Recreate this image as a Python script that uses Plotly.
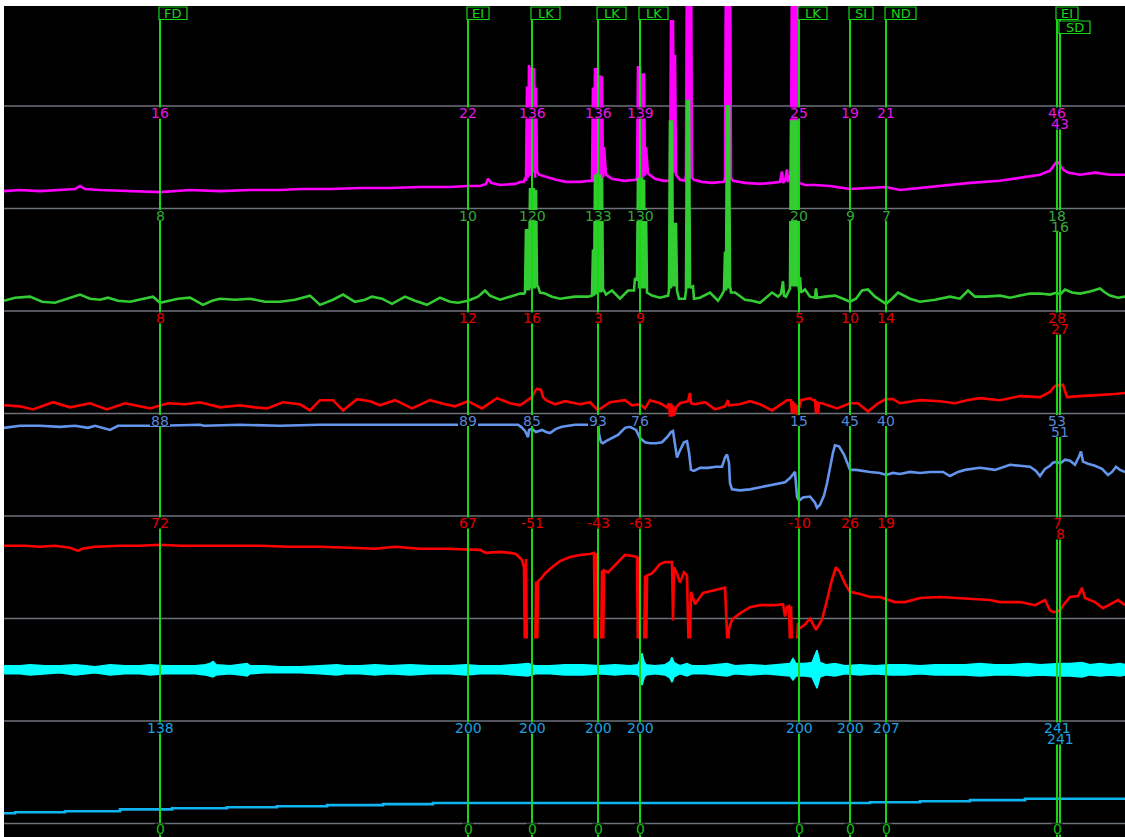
import plotly.graph_objects as go

# ---------------------------------------------------------------- event markers
event_names = ["FD", "EI", "LK", "LK", "LK", "LK", "SI", "ND", "EI", "SD"]
event_times = [160, 468, 532, 598, 640, 799, 850, 886, 1057, 1060]

# channel readings printed at every event marker
mag_at_events = [16, 22, 136, 136, 139, 25, 19, 21, 46, 43]
grn_at_events = [8, 10, 120, 133, 130, 20, 9, 7, 18, 16]
red_at_events = [8, 12, 16, 3, 9, 5, 10, 14, 28, 27]
blu_at_events = [88, 89, 85, 93, 76, 15, 45, 40, 53, 51]
red2_at_events = [72, 67, -51, -43, -63, -10, 26, 19, 7, 8]
ramp_at_events = [138, 200, 200, 200, 200, 200, 200, 207, 241, 241]
aux_at_events = [0, 0, 0, 0, 0, 0, 0, 0, 0, 0]

# ---------------------------------------------------------------- channel samples (t, value)
magenta_ch = [
    (4, 17), (20, 18), (40, 17), (60, 18), (75, 19), (80, 22), (85, 19), (100, 18), (130, 17), (160, 16),
    (190, 18), (220, 17), (250, 18), (280, 18), (300, 19), (330, 19), (360, 20), (390, 20), (420, 21),
    (450, 21), (468, 22), (480, 22), (486, 24), (488, 29), (491, 25), (500, 23), (515, 24), (521, 26),
    (524, 26), (525, 30), (526, 27), (527, 119), (528, 30), (529, 140), (530, 32), (531, 137), (532, 136),
    (533, 35), (534, 137), (535, 30), (536, 118), (537, 36), (539, 33), (542, 32), (548, 30), (556, 28),
    (566, 26), (580, 26), (590, 27),
    (592, 27), (593, 118), (594, 26), (595, 137), (596, 28), (597, 137), (598, 136), (599, 28), (600, 130),
    (601, 28), (602, 129), (603, 30), (604, 60), (606, 33), (612, 29), (624, 27), (632, 28),
    (636, 28), (637, 30), (638, 139), (639, 29), (640, 139), (641, 30), (642, 132), (643, 30), (644, 132),
    (645, 32), (646, 60), (648, 34), (655, 29), (664, 27),
    (669, 27), (670, 30), (671, 184), (672, 30), (673, 184), (674, 35), (675, 150), (676, 33), (680, 28),
    (685, 27), (686, 32), (687, 260), (688, 30), (689, 260), (690, 30), (691, 260), (692, 30), (694, 28),
    (702, 26), (712, 25), (720, 26),
    (724, 26), (725, 30), (726, 260), (727, 30), (728, 260), (729, 30), (730, 260), (731, 30), (733, 27),
    (745, 25), (760, 24), (772, 25),
    (780, 26), (782, 36), (783, 25), (785, 27), (787, 38), (788, 26),
    (790, 30), (791, 40), (792, 250), (793, 30), (794, 250), (795, 30), (796, 250), (797, 30), (798, 250),
    (799, 25), (805, 23), (815, 23), (830, 22), (850, 19), (870, 20), (886, 21), (900, 18), (920, 20),
    (950, 23), (970, 25), (1000, 27), (1020, 30), (1040, 33), (1050, 37), (1054, 42), (1057, 46),
    (1060, 43), (1063, 38), (1068, 35), (1080, 33), (1095, 35), (1110, 33), (1125, 33),
]

green_ch = [
    (4, 10), (15, 13), (30, 14), (42, 9), (55, 8), (68, 12), (80, 16), (90, 12), (100, 11), (108, 13),
    (118, 10), (130, 9), (143, 12), (153, 14), (160, 8), (165, 9), (178, 12), (190, 13), (203, 6),
    (212, 10), (220, 12), (235, 11), (250, 12), (265, 9), (280, 9), (295, 11), (310, 15), (320, 6),
    (333, 11), (343, 16), (355, 9), (365, 11), (372, 14), (382, 12), (392, 7), (405, 14), (415, 10),
    (427, 6), (440, 13), (450, 9), (458, 8), (468, 10), (478, 14), (485, 20), (490, 15), (500, 11),
    (510, 14), (520, 17),
    (524, 17), (525, 18), (526, 80), (527, 20), (528, 80), (529, 20), (530, 120), (531, 22), (532, 120),
    (533, 22), (534, 120), (535, 22), (536, 118), (537, 25), (538, 24), (540, 18), (545, 17), (552, 14),
    (560, 12), (575, 14), (588, 14),
    (592, 15), (593, 60), (594, 15), (595, 133), (596, 16), (597, 133), (598, 133), (599, 18), (600, 133),
    (601, 18), (602, 130), (603, 20), (604, 20), (606, 16), (612, 20), (620, 12), (628, 20),
    (634, 20), (635, 32), (637, 30), (638, 130), (639, 22), (640, 130), (641, 22), (642, 130), (643, 22),
    (644, 128), (645, 22), (646, 100), (647, 18), (652, 15), (660, 13),
    (668, 15), (669, 20), (670, 186), (671, 22), (672, 186), (673, 24), (674, 86), (675, 24), (676, 86),
    (677, 20), (679, 12),
    (685, 12), (686, 20), (687, 206), (688, 22), (689, 206), (690, 24), (691, 23), (693, 24), (694, 12),
    (700, 13), (710, 18), (718, 10),
    (722, 16), (724, 20), (725, 58), (726, 20), (727, 201), (728, 22), (729, 201), (730, 25), (731, 18),
    (735, 18), (745, 11), (752, 10), (760, 8), (772, 18), (778, 14),
    (781, 17), (783, 29), (784, 15), (786, 14), (788, 18), (790, 22), (791, 186), (792, 24), (793, 186),
    (794, 24), (795, 186), (796, 24), (797, 186), (798, 33), (799, 20), (800, 33), (801, 18), (805, 21),
    (810, 14), (815, 13), (816, 22), (817, 13), (825, 14), (835, 15), (843, 12), (850, 9), (856, 12),
    (862, 20), (868, 21), (875, 14), (886, 7), (892, 12), (898, 18), (910, 12), (920, 9), (935, 11),
    (950, 14), (960, 12), (968, 20), (975, 14), (985, 14), (1000, 15), (1010, 13), (1020, 15), (1030, 17),
    (1040, 17), (1050, 16), (1057, 18), (1060, 16), (1065, 21), (1072, 18), (1080, 17), (1090, 19),
    (1100, 22), (1105, 18), (1110, 15), (1118, 13), (1125, 14),
]

red_upper_ch = [
    (4, 8), (20, 7), (33, 4), (53, 11), (70, 6), (90, 10), (107, 4), (125, 10), (150, 5), (160, 8),
    (168, 10), (185, 9), (200, 11), (220, 6), (240, 8), (255, 6), (267, 5), (283, 11), (300, 9), (310, 3),
    (320, 13), (333, 13), (343, 3), (357, 14), (370, 12), (380, 8), (395, 13), (412, 5), (430, 13),
    (445, 9), (455, 7), (468, 12), (482, 5), (497, 15), (510, 10), (520, 8), (530, 15), (532, 16),
    (535, 22), (537, 24), (541, 23), (543, 16), (546, 13), (555, 9), (565, 12), (580, 9), (590, 11),
    (598, 3), (610, 11), (625, 13), (632, 8), (640, 9), (645, 5), (650, 13), (660, 10), (667, 6),
    (669, 10), (670, -3), (671, 10), (672, -3), (673, 8), (674, -2), (676, 6), (680, 10), (688, 12),
    (690, 20), (691, 10), (695, 9), (705, 11), (715, 4), (725, 7), (728, 13), (729, 8), (740, 9),
    (750, 12), (760, 9), (772, 3), (787, 13),
    (791, 13), (792, 0), (793, 12), (794, 0), (795, 10), (796, 0), (797, 0), (798, 8), (799, 5), (801, 13),
    (810, 15), (813, 13),
    (815, 13), (816, 0), (817, 12), (818, 0), (819, 10), (822, 10), (837, 5), (850, 10), (858, 10),
    (868, 2), (878, 10), (886, 14), (893, 14), (900, 10), (920, 13), (940, 12), (955, 10), (967, 13),
    (980, 15), (1000, 13), (1020, 17), (1040, 16), (1050, 21), (1054, 26), (1057, 28), (1060, 27),
    (1063, 28), (1067, 16), (1080, 17), (1100, 18), (1115, 19), (1125, 20),
]

blue_ch = [
    (4, 86), (20, 88), (40, 88), (60, 87), (75, 88), (88, 86), (95, 88), (110, 84), (118, 88), (140, 88),
    (160, 88), (200, 89), (204, 88), (240, 89), (280, 88), (320, 89), (360, 89), (400, 89), (440, 89),
    (468, 89), (500, 89), (518, 89), (521, 87), (523, 85), (525, 83), (527, 79), (528, 77), (529, 84),
    (532, 85), (536, 82), (542, 84), (546, 82), (550, 81), (556, 85), (562, 87), (575, 89), (596, 89),
    (598, 93), (599, 80), (601, 72), (603, 71), (606, 73), (612, 76), (618, 79), (625, 86), (630, 87),
    (636, 84), (640, 76), (645, 72), (650, 71), (656, 71), (662, 72), (668, 78), (671, 82), (673, 83),
    (675, 72), (677, 57), (679, 62), (684, 72), (687, 73), (689, 62), (691, 45), (694, 44), (700, 47),
    (708, 47), (716, 48), (722, 48), (725, 57), (727, 60), (729, 52), (730, 32), (732, 26), (740, 25),
    (750, 26), (760, 28), (775, 31), (785, 33), (790, 37), (794, 42), (795, 43), (797, 19), (799, 15),
    (803, 18), (810, 19), (815, 13), (817, 8), (820, 11), (824, 20), (827, 32), (830, 48), (833, 62),
    (835, 69), (839, 68), (844, 60), (847, 52), (850, 45), (856, 45), (862, 44), (870, 43), (880, 42),
    (886, 40), (893, 42), (900, 41), (910, 43), (920, 42), (930, 43), (943, 43), (950, 39), (958, 43),
    (965, 45), (980, 47), (995, 45), (1010, 50), (1020, 49), (1030, 48), (1036, 44), (1040, 39),
    (1045, 46), (1050, 49), (1053, 52), (1057, 53), (1060, 51), (1065, 55), (1070, 54), (1075, 50),
    (1079, 58), (1081, 63), (1083, 53), (1088, 51), (1095, 49), (1102, 46), (1108, 40), (1112, 43),
    (1116, 48), (1120, 45), (1125, 43),
]

red_lower_ch = [
    (4, 71), (25, 71), (40, 70), (55, 71), (70, 69), (78, 66), (82, 68), (95, 70), (120, 71), (140, 71),
    (160, 72), (180, 71), (200, 71), (230, 71), (260, 71), (290, 70), (320, 70), (350, 69), (375, 68),
    (395, 70), (420, 68), (445, 68), (468, 67), (480, 67), (486, 64), (500, 65), (510, 64), (516, 63),
    (519, 60), (522, 57), (524, 50), (525, -40), (526, 58), (527, -50), (528, -30), (532, -51),
    (535, -48), (536, 36), (537, -48), (538, 36), (542, 40),
    (545, 44), (552, 50), (560, 56), (570, 60), (580, 62), (590, 63), (594, 64), (595, -30), (596, 64),
    (597, -43), (598, -43), (601, -40), (602, 47), (603, -40), (604, 47), (608, 45), (615, 52), (625, 62),
    (633, 61), (637, 60), (638, -40), (639, 60), (640, -63), (644, -50), (645, 42), (646, -50), (647, 42),
    (652, 44), (660, 53), (665, 55), (672, 55), (673, -2), (674, 50), (677, 44),
    (680, 35), (684, 45), (687, 42), (688, -40), (689, -45), (690, -20), (691, 26), (695, 14), (699, 20),
    (703, 25), (712, 27), (720, 29), (725, 30), (727, -15), (728, -25), (729, -10), (732, -1), (740, 5),
    (750, 11), (760, 13), (775, 13), (783, 14), (785, 2), (787, 11), (789, 12), (790, -25), (791, 12),
    (792, -25), (797, -25),
    (798, -4), (799, -10), (805, -6), (810, 0), (816, -11), (822, -1), (827, 18), (832, 38), (836, 50),
    (840, 45), (845, 34), (850, 26), (860, 24), (870, 21), (880, 21), (886, 19), (895, 16), (905, 16),
    (920, 20), (940, 21), (960, 20), (975, 19), (990, 18), (1000, 16), (1020, 16), (1035, 13), (1045, 18),
    (1050, 8), (1054, 6), (1057, 7), (1060, 8), (1064, 14), (1070, 21), (1078, 22), (1082, 30), (1085, 20),
    (1095, 16), (1103, 10), (1110, 14), (1118, 18), (1125, 13),
]

# high-frequency channel: (t, upper envelope, lower envelope)
cyan_envelope = [
    (4, 54, 46), (20, 54, 46), (30, 55, 45), (45, 54, 46), (60, 54, 47), (75, 55, 45), (86, 54, 46),
    (95, 53, 47), (110, 55, 45), (125, 54, 46), (140, 54, 46), (150, 55, 45), (165, 54, 46), (180, 54, 46),
    (195, 54, 46), (205, 55, 45), (210, 56, 44), (213, 58, 43), (216, 55, 45), (230, 54, 46), (240, 55, 45),
    (247, 56, 44), (250, 54, 46), (265, 54, 47), (280, 53, 47), (300, 53, 47), (320, 54, 46), (337, 55, 45),
    (345, 54, 46), (360, 54, 46), (375, 55, 45), (390, 54, 46), (410, 55, 45), (430, 54, 46), (450, 54, 46),
    (466, 55, 45), (480, 54, 46), (500, 54, 46), (515, 55, 45), (528, 56, 44), (535, 54, 46), (550, 54, 46),
    (565, 55, 45), (583, 55, 45), (600, 54, 46), (615, 55, 45), (630, 54, 46), (638, 55, 45), (640, 60, 42),
    (642, 66, 35), (644, 58, 42), (646, 55, 45), (655, 54, 46), (665, 55, 45), (670, 58, 42), (672, 62, 38),
    (674, 57, 43), (680, 54, 46), (687, 56, 44), (692, 54, 46), (705, 54, 46), (715, 55, 45), (727, 56, 44),
    (735, 54, 46), (750, 55, 45), (765, 54, 46), (780, 55, 45), (790, 56, 44), (793, 61, 40), (796, 56, 44),
    (805, 56, 44), (812, 57, 43), (817, 69, 32), (820, 57, 43), (826, 55, 45), (835, 56, 44), (845, 54, 46),
    (860, 55, 45), (875, 54, 46), (890, 55, 45), (905, 55, 45), (920, 54, 46), (935, 55, 45), (950, 55, 45),
    (965, 55, 45), (980, 56, 44), (995, 55, 45), (1010, 55, 45), (1028, 56, 44), (1040, 55, 45),
    (1055, 56, 44), (1060, 56, 44), (1070, 56, 44), (1082, 57, 43), (1090, 55, 45), (1100, 56, 44),
    (1110, 55, 45), (1120, 56, 44), (1125, 55, 45),
]

# slow counter channel, held between updates
ramp_ch = [
    (4, 100), (15, 110), (65, 120), (120, 138), (172, 149), (227, 159), (277, 169), (327, 179), (383, 189),
    (433, 200), (870, 207), (920, 217), (970, 228), (1025, 241), (1125, 241),
]

# ---------------------------------------------------------------- geometry & styling
FIG_W, FIG_H = 1125, 837
PAD_L, PAD_T = 4, 6
PLOT_H = FIG_H - PAD_T
BAND_PX = 102.5          # height of one channel strip
LINE0_PX = 3.5
FONT = "DejaVu Sans"
EVENT_GREEN = "#16d616"
TAG_W = {"FD": 28, "EI": 22, "LK": 29, "SI": 24, "ND": 31, "SD": 31}


def frac(px):
    """Plot-area fraction (0 = bottom) for a pixel row counted from the figure top."""
    return (FIG_H - px) / PLOT_H


channels = [
    dict(samples=magenta_ch, color="#ff00ff", lab_color="#e418e4", line=2, units=100, labels=mag_at_events),
    dict(samples=green_ch, color="#33cc33", lab_color="#36a836", line=3, units=100, labels=grn_at_events),
    dict(samples=red_upper_ch, color="#ff0000", lab_color="#e00000", line=4, units=100, labels=red_at_events),
    dict(samples=blue_ch, color="#6495ed", lab_color="#5a86d6", line=5, units=100, labels=blu_at_events),
    dict(samples=red_lower_ch, color="#ff0000", lab_color="#e00000", line=6, units=100,
         labels=red2_at_events, clip_px=638.5),
    dict(samples=None, color="#00ffff", lab_color=None, line=7, units=100, labels=None),
    dict(samples=ramp_ch, color="#10b4f0", lab_color="#1ea0e0", line=8, units=1000, labels=ramp_at_events,
         shape="hv"),
]

# stacking row of each event tag / reading (close events stack downwards)
event_rows = []
for i, t in enumerate(event_times):
    if i > 0 and t - event_times[i - 1] < 12:
        event_rows.append(event_rows[-1] + 1)
    else:
        event_rows.append(0)

fig = go.Figure()
layout_axes = {}
shapes = []
annotations = []

# black recording area and strip dividers
shapes.append(dict(type="rect", xref="paper", yref="paper", x0=0, x1=1, y0=0, y1=1,
                   fillcolor="#000000", line=dict(width=0), layer="below"))
for k in range(1, 9):
    y = frac(LINE0_PX + k * BAND_PX)
    shapes.append(dict(type="line", xref="paper", yref="paper", x0=0, x1=1, y0=y, y1=y,
                       line=dict(color="#6c727a", width=1.5), layer="below"))

for idx, ch in enumerate(channels):
    axis_id = "y" if idx == 0 else f"y{idx + 1}"
    axis_key = "yaxis" if idx == 0 else f"yaxis{idx + 1}"
    bottom_px = LINE0_PX + ch["line"] * BAND_PX
    clip_px = ch.get("clip_px", FIG_H)
    ppu = BAND_PX / ch["units"]
    layout_axes[axis_key] = dict(
        domain=[frac(clip_px), 1],
        range=[-(clip_px - bottom_px) / ppu, (bottom_px - PAD_T) / ppu],
        visible=False, fixedrange=True, anchor="x",
    )
    ch["axis"] = axis_id

    if ch["samples"] is None:
        ts = [p[0] for p in cyan_envelope]
        fig.add_trace(go.Scatter(x=ts, y=[p[1] for p in cyan_envelope], mode="lines",
                                 line=dict(color=ch["color"], width=1.5), yaxis=axis_id, hoverinfo="skip"))
        fig.add_trace(go.Scatter(x=ts, y=[p[2] for p in cyan_envelope], mode="lines", fill="tonexty",
                                 fillcolor=ch["color"], line=dict(color=ch["color"], width=1.5),
                                 yaxis=axis_id, hoverinfo="skip"))
    else:
        fig.add_trace(go.Scatter(
            x=[p[0] for p in ch["samples"]], y=[p[1] for p in ch["samples"]], mode="lines",
            line=dict(color=ch["color"], width=2.6, shape=ch.get("shape", "linear")),
            yaxis=axis_id, hoverinfo="skip"))

# event marker lines
for t in event_times:
    shapes.append(dict(type="line", xref="x", yref="paper", x0=t, x1=t, y0=0, y1=frac(PAD_T + 1),
                       line=dict(color=EVENT_GREEN, width=2), layer="above"))

# event tags at the top
for name, t, row in zip(event_names, event_times, event_rows):
    w = TAG_W[name]
    shapes.append(dict(type="rect", xref="x", xsizemode="pixel", xanchor=t, x0=-1, x1=w - 1,
                       yref="paper", ysizemode="pixel", yanchor=1, y0=-1 - 14 * row, y1=-13.5 - 14 * row,
                       fillcolor="#000000", line=dict(color=EVENT_GREEN, width=1.2), layer="above"))
    annotations.append(dict(text=name, x=t, xref="x", xanchor="center", xshift=w / 2 - 1,
                            y=1, yref="paper", yanchor="middle", yshift=-7.5 - 14 * row, showarrow=False,
                            font=dict(family=FONT, size=13, color=EVENT_GREEN)))


def add_reading(text, t, row, yref, yval, color, lift=0.0):
    w = 9 * len(text) + 2
    shapes.append(dict(type="rect", xref="x", xsizemode="pixel", xanchor=t, x0=-w / 2, x1=w / 2,
                       yref=yref, ysizemode="pixel", yanchor=yval,
                       y0=-1.5 - 11 * row + lift, y1=-12.5 - 11 * row + lift,
                       fillcolor="#000000", line=dict(width=0), layer="above"))
    annotations.append(dict(text=text, x=t, xref="x", xanchor="center", y=yval, yref=yref,
                            yanchor="middle", yshift=-7 - 11 * row + lift, showarrow=False,
                            font=dict(family=FONT, size=14, color=color)))


# readings printed under each strip divider
for ch in channels:
    if ch["labels"] is None:
        continue
    for v, t, row in zip(ch["labels"], event_times, event_rows):
        add_reading(str(v), t, row, ch["axis"], ch["units"], ch["lab_color"])

# bottom strip readings sit against the lower edge of the window
aux_line_px = LINE0_PX + 8 * BAND_PX
for v, t, row in zip(aux_at_events, event_times, event_rows):
    if aux_line_px + 13 + 11 * row < FIG_H:
        add_reading(str(v), t, row, "paper", frac(aux_line_px), "#10c010", lift=1.5)

fig.update_layout(
    width=FIG_W, height=FIG_H,
    margin=dict(l=PAD_L, r=0, t=PAD_T, b=0, pad=0),
    paper_bgcolor="#ffffff", plot_bgcolor="rgba(0,0,0,0)",
    showlegend=False,
    xaxis=dict(range=[PAD_L, FIG_W], domain=[0, 1], visible=False, fixedrange=True, anchor="y"),
    shapes=shapes, annotations=annotations,
    **layout_axes,
)

fig.write_html("out.html", config={"displayModeBar": False, "staticPlot": True})
